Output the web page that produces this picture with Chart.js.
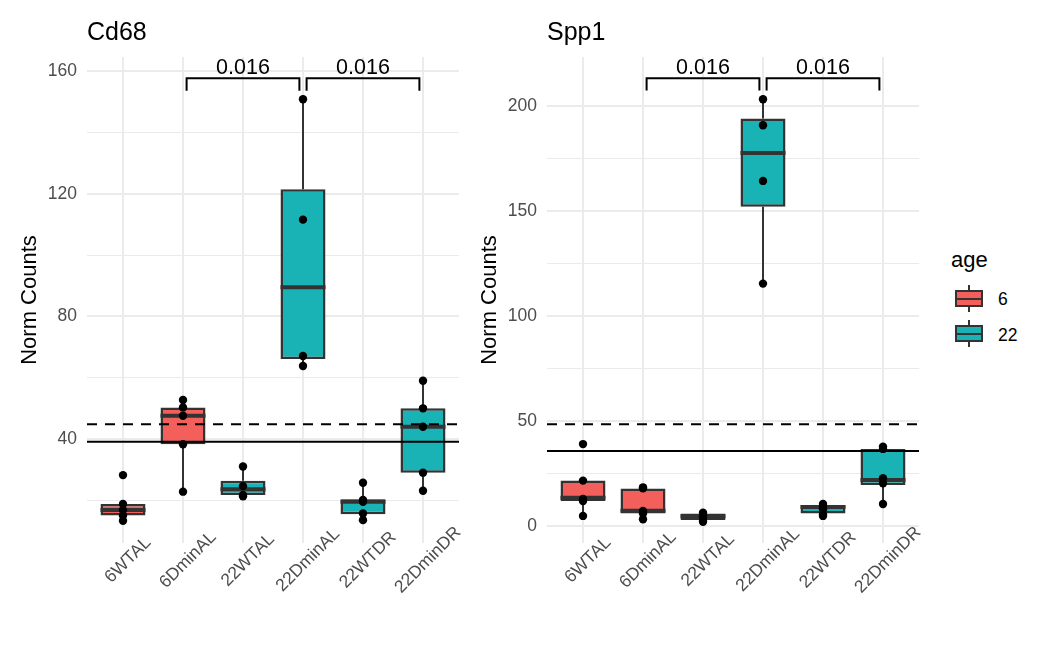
<!DOCTYPE html>
<html>
<head>
<meta charset="utf-8">
<script src="https://cdn.jsdelivr.net/npm/chart.js@4.4.0/dist/chart.umd.min.js"></script>
<style>
  body { margin: 0; background: #fff; width: 1050px; height: 648px; position: relative; overflow: hidden;
         font-family: "Liberation Sans", Arial, sans-serif; }
  canvas { position: absolute; top: 0; }
  #cd68 { left: 10px; }
  #spp1 { left: 470px; }
  .abs { position: absolute; }
  .lgTitle { left: 951px; top: 247px; font-size: 22px; line-height: 26px; color: #000; }
  .lgLabel { left: 998px; font-size: 17.5px; line-height: 20px; color: #000; }
  .whisk { left: 968px; width: 2px; background: #333; }
  .keyBox { left: 955px; width: 28px; height: 17px; border: 2px solid #333; box-sizing: border-box; }
  .keyMed { position: absolute; left: 0; right: 0; top: 5.5px; height: 2.5px; background: #333; }
</style>
</head>
<body>
<canvas id="cd68" width="460" height="648"></canvas>
<canvas id="spp1" width="470" height="648"></canvas>

<div class="abs lgTitle">age</div>
<div class="abs whisk" style="top:285px;height:27px"></div>
<div class="abs keyBox" style="top:290px;background:#F35F5B"><div class="keyMed"></div></div>
<div class="abs lgLabel" style="top:289px">6</div>
<div class="abs whisk" style="top:320px;height:27px"></div>
<div class="abs keyBox" style="top:325px;background:#19B3B6"><div class="keyMed"></div></div>
<div class="abs lgLabel" style="top:325px">22</div>

<script>
var groups = ['6WTAL', '6DminAL', '22WTAL', '22DminAL', '22WTDR', '22DminDR'];
var ages = ['6', '6', '22', '22', '22', '22'];
var ageColors = { '6': '#F35F5B', '22': '#19B3B6' };

// Cd68 samples per group, and box stats [low whisker, q1, median, q3, high whisker]
var cd68Points = [
    [28.2, 18.8, 16.8, 15.0, 13.3],
    [52.7, 50.3, 47.6, 38.3, 22.8],
    [31.0, 24.6, 21.7, 21.3],
    [150.9, 111.6, 67.1, 63.8],
    [25.7, 20.1, 19.5, 15.7, 13.5],
    [59.0, 50.0, 44.0, 29.0, 23.1]
];
var cd68Box = [
    [13.3, 15.0, 16.8, 18.8, 18.8],
    [22.8, 38.3, 47.6, 50.3, 52.7],
    [21.3, 21.7, 23.6, 26.4, 31.0],
    [63.8, 66.1, 89.5, 121.5, 150.9],
    [13.5, 15.4, 19.5, 20.3, 25.7],
    [23.1, 29.0, 44.0, 50.0, 59.0]
];
var cd68Solid = 39.1;
var cd68Dashed = 44.8;

// Spp1
var spp1Points = [
    [39.0, 21.6, 12.9, 11.9, 4.8],
    [18.4, 17.9, 7.2, 6.0, 3.2],
    [6.3, 5.0, 4.3, 2.9, 2.0],
    [203.2, 190.8, 164.3, 115.4],
    [10.5, 9.5, 8.0, 5.5, 4.8],
    [37.8, 36.7, 22.7, 20.3, 10.5]
];
var spp1Box = [
    [4.8, 11.9, 13.5, 21.6, 21.6],
    [3.2, 6.0, 7.2, 17.9, 18.4],
    [2.0, 2.9, 4.6, 6.0, 6.3],
    [115.4, 152.0, 177.6, 194.0, 203.2],
    [4.8, 6.0, 9.0, 10.0, 10.5],
    [10.5, 19.5, 21.9, 36.7, 37.8]
];
var spp1Solid = 35.7;
var spp1Dashed = 48.4;

// pairwise comparisons drawn as brackets: [tip, top] on the y scale
var comparisons = [[1, 3], [3, 5]];
var pValues = ['0.016', '0.016'];
var cd68Bracket = [153.7, 157.8];
var spp1Bracket = [207.3, 213.2];

var FONT = '"Liberation Sans", Arial, sans-serif';

var panelText = {
    id: 'panelText',
    afterDraw: function(chart, args, opts) {
        var ctx = chart.ctx, xs = chart.scales.x, ys = chart.scales.y, area = chart.chartArea;
        ctx.save();
        ctx.fillStyle = '#000';
        ctx.font = '25px ' + FONT;
        ctx.textAlign = 'left';
        ctx.textBaseline = 'alphabetic';
        ctx.fillText(opts.title, area.left, 40);

        // p-values above the brackets
        ctx.font = '21.5px ' + FONT;
        ctx.textAlign = 'center';
        comparisons.forEach(function(c, k) {
            ctx.fillText(pValues[k], xs.getPixelForValue((c[0] + c[1]) / 2), ys.getPixelForValue(opts.bracket[1]) - 4);
        });

        // rotated group labels
        ctx.font = '17.5px ' + FONT;
        ctx.fillStyle = '#4D4D4D';
        ctx.textBaseline = 'middle';
        groups.forEach(function(g, i) {
            ctx.save();
            ctx.translate(xs.getPixelForValue(i) + 5, area.bottom + 17);
            ctx.rotate(-Math.PI / 4);
            ctx.fillText(g, 0, 0);
            ctx.restore();
        });
        ctx.restore();
    }
};

function makePanel(id, title, points, box, solid, dashed, bracket, yMin, yMax, step, labelEvery, padRight) {
    var dots = [], whiskers = [], medians = [], bars = [], brackets = [];
    points.forEach(function(vals, i) {
        vals.forEach(function(v) { dots.push({ x: i, y: v }); });
    });
    box.forEach(function(b, i) {
        whiskers.push({ x: i, y: b[0] }, { x: i, y: b[1] }, { x: i, y: null },
                      { x: i, y: b[3] }, { x: i, y: b[4] }, { x: i, y: null });
        medians.push({ x: i - 0.375, y: b[2] }, { x: i + 0.375, y: b[2] }, { x: i, y: null });
        bars.push({ x: i, y: [b[1], b[3]] });
    });
    comparisons.forEach(function(c) {
        var a = c[0] + 0.06, b = c[1] - 0.06;
        brackets.push({ x: a, y: bracket[0] }, { x: a, y: bracket[1] }, { x: b, y: bracket[1] },
                      { x: b, y: bracket[0] }, { x: c[1], y: null });
    });

    return new Chart(document.getElementById(id), {
        type: 'bar',
        data: {
            datasets: [
                { type: 'scatter', data: dots, backgroundColor: '#000', borderWidth: 0, pointRadius: 4.2, order: 0 },
                { type: 'line', data: [{ x: -0.6, y: solid }, { x: 5.6, y: solid }], borderColor: '#000',
                  borderWidth: 2, pointRadius: 0, order: 1 },
                { type: 'line', data: [{ x: -0.6, y: dashed }, { x: 5.6, y: dashed }], borderColor: '#000',
                  borderWidth: 2, borderDash: [10, 8], pointRadius: 0, order: 1 },
                { type: 'line', data: brackets, borderColor: '#000', borderWidth: 2, pointRadius: 0, order: 1 },
                { type: 'line', data: medians, borderColor: '#333', borderWidth: 4, pointRadius: 0,
                  borderCapStyle: 'butt', order: 2 },
                { type: 'bar', data: bars, backgroundColor: ages.map(function(a) { return ageColors[a]; }),
                  borderColor: '#333', borderWidth: 2.5, borderSkipped: false,
                  barPercentage: 0.75, categoryPercentage: 1, order: 3 },
                { type: 'line', data: whiskers, borderColor: '#333', borderWidth: 2, pointRadius: 0, order: 4 }
            ]
        },
        options: {
            responsive: false,
            animation: false,
            layout: { padding: { top: 57, right: padRight, bottom: 0, left: 0 } },
            plugins: {
                legend: { display: false },
                tooltip: { enabled: false },
                panelText: { title: title, bracket: bracket }
            },
            scales: {
                x: {
                    type: 'linear', min: -0.6, max: 5.6, offset: false,
                    ticks: { stepSize: 1, display: false, includeBounds: false },
                    grid: { color: '#EBEBEB', lineWidth: 2, drawTicks: false, offset: false },
                    border: { display: false },
                    afterFit: function(s) { s.height = 105; }
                },
                y: {
                    min: yMin, max: yMax,
                    ticks: {
                        stepSize: step, includeBounds: false, autoSkip: false, padding: 10,
                        color: '#4D4D4D', font: { size: 17.5, family: FONT },
                        callback: function(v) { return v % labelEvery === 0 ? v : ''; }
                    },
                    grid: {
                        color: '#EBEBEB', drawTicks: false,
                        lineWidth: function(c) { return c.tick && c.tick.value % labelEvery === 0 ? 2 : 1; }
                    },
                    border: { display: false },
                    title: { display: true, text: 'Norm Counts', color: '#000',
                             font: { size: 22, family: FONT }, padding: { top: 7, bottom: 0 } },
                    afterFit: function(s) { s.width = 77; }
                }
            }
        },
        plugins: [panelText]
    });
}

makePanel('cd68', 'Cd68', cd68Points, cd68Box, cd68Solid, cd68Dashed, cd68Bracket, 6.04, 164.7, 20, 40, 11);
makePanel('spp1', 'Spp1', spp1Points, spp1Box, spp1Solid, spp1Dashed, spp1Bracket, -8.1, 223.3, 25, 50, 21);
</script>
</body>
</html>
